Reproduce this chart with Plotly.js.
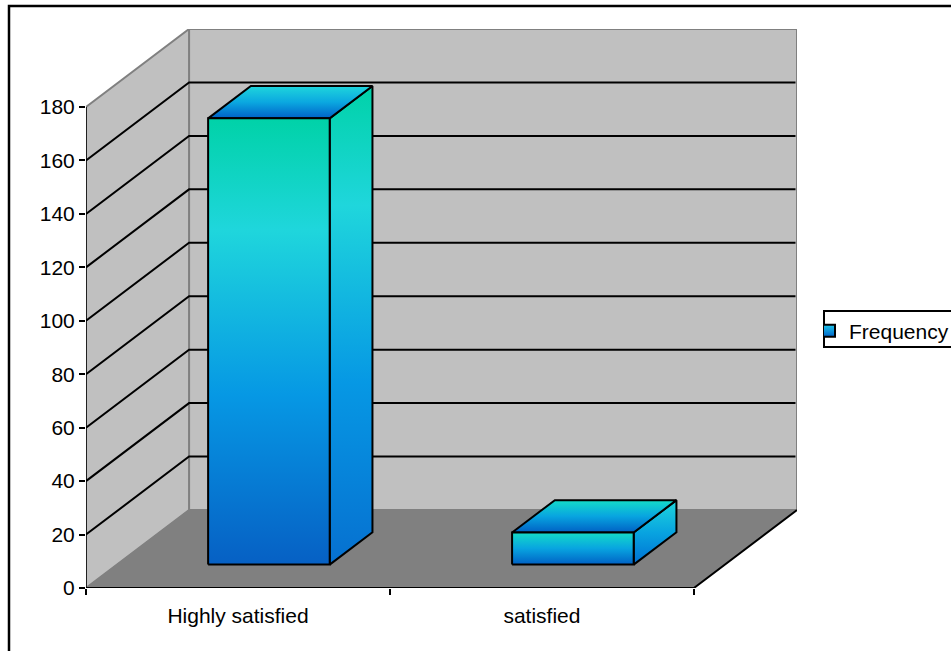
<!DOCTYPE html>
<html>
<head>
<meta charset="utf-8">
<script src="https://cdn.plot.ly/plotly-3.0.1.min.js"></script>
<style>html,body{margin:0;padding:0;background:#fff;overflow:hidden}</style>
</head>
<body>
<div id="chart" style="width:951px;height:651px"></div>
<script>
// Survey results
const categories = ["Highly satisfied", "satisfied"];
const frequency = [167, 12];
const seriesName = "Frequency";
const valueTicks = [0, 20, 40, 60, 80, 100, 120, 140, 160, 180];
const gridValues = [20, 40, 60, 80, 100, 120, 140, 160];

// Oblique projection: one unit of depth moves a point this far in axis units
const DEPTH_X = 0.339;
const DEPTH_Y = 29.2;
const VALUE_MAX = 180;
const COLUMN_WIDTH = 0.4;
const COLUMN_FRONT = 0.3;
const COLUMN_BACK = 0.715;

const project = (cat, val, depth) => [cat + depth * DEPTH_X, val + depth * DEPTH_Y];

// Builds a trace from [category, value, depth] corners
function poly(corners, style) {
  const pts = corners.map(c => project(c[0], c[1], c[2]));
  return Object.assign({
    type: "scatter", mode: "lines", hoverinfo: "skip", showlegend: false,
    x: pts.map(p => p[0]), y: pts.map(p => p[1])
  }, style);
}

const WALL = "#c0c0c0", FLOOR = "#808080", EDGE = "#808080";
const n = categories.length;
const traces = [];

// Walls and floor
traces.push(poly([[0,0,1],[n,0,1],[n,VALUE_MAX,1],[0,VALUE_MAX,1],[0,0,1]],
  {fill: "toself", fillcolor: WALL, line: {color: EDGE, width: 2}}));
traces.push(poly([[0,0,0],[0,0,1],[0,VALUE_MAX,1],[0,VALUE_MAX,0],[0,0,0]],
  {fill: "toself", fillcolor: WALL, line: {color: EDGE, width: 2}}));
traces.push(poly([[0,0,0],[n,0,0],[n,0,1],[0,0,1],[0,0,0]],
  {fill: "toself", fillcolor: FLOOR, line: {color: EDGE, width: 1}}));

// Gridlines run across the side wall and then along the back wall
gridValues.forEach(v => {
  traces.push(poly([[0,v,0],[0,v,1],[n - 0.005,v,1]], {line: {color: "#000", width: 2}}));
});

// Axis lines
traces.push(poly([[0,0,0],[0,VALUE_MAX,0]], {line: {color: "#000", width: 1.5}}));
traces.push(poly([[0,0,0],[n,0,0],[n,0,1]], {line: {color: "#000", width: 2}}));

// Gradient stops run from the bottom of each face to its top
const FRONT_TALL = [[0,"#0660c4"],[0.38,"#0698e4"],[0.75,"#1fd6dc"],[1,"#00d2a8"]];
const SIDE_TALL = [[0,"#0670d0"],[0.38,"#0698e4"],[0.75,"#1fd6dc"],[1,"#00d2a8"]];
const TOP_FACE = [[0,"#0060c8"],[0.5,"#0ba8e0"],[1,"#1fd6dc"]];
const FRONT_SHORT = [[0,"#0060c4"],[0.5,"#08a4e0"],[1,"#14dcc8"]];
const SIDE_SHORT = [[0,"#0070d4"],[0.5,"#08a4e0"],[1,"#1fd6dc"]];
const FACE_LINE = {color: "#000", width: 2};

// Each column is three shaded faces projected from its value
frequency.forEach((v, i) => {
  const l = i + 0.5 - COLUMN_WIDTH / 2, r = i + 0.5 + COLUMN_WIDTH / 2;
  const f = COLUMN_FRONT, b = COLUMN_BACK;
  const tall = v > 50;
  traces.push(poly([[r,0,f],[r,0,b],[r,v,b],[r,v,f],[r,0,f]],
    {fill: "toself", line: FACE_LINE,
     fillgradient: {type: "vertical", colorscale: tall ? SIDE_TALL : SIDE_SHORT}}));
  traces.push(poly([[l,v,f],[r,v,f],[r,v,b],[l,v,b],[l,v,f]],
    {fill: "toself", line: FACE_LINE,
     fillgradient: {type: "vertical", colorscale: tall ? TOP_FACE : FRONT_SHORT}}));
  traces.push(poly([[l,0,f],[r,0,f],[r,v,f],[l,v,f],[l,0,f]],
    {fill: "toself", line: FACE_LINE,
     fillgradient: {type: "vertical", colorscale: tall ? FRONT_TALL : FRONT_SHORT}}));
});

// Legend entry for the series
traces.push({
  type: "scatter", mode: "markers", name: seriesName, x: [null], y: [null],
  hoverinfo: "skip",
  marker: {symbol: "square", size: 12, color: "#1fc8ec",
           gradient: {type: "vertical", color: "#0064c8"},
           line: {color: "#000", width: 2}}
});

const W = 951, H = 651;
const M = {l: 86, r: W - 797, t: 29, b: H - 588};
const px = x => (x - M.l) / (W - M.l - M.r);
const py = y => 1 - (y - M.t) / (H - M.t - M.b);

const layout = {
  width: W, height: H,
  margin: M, autosize: false,
  paper_bgcolor: "#fff", plot_bgcolor: "rgba(0,0,0,0)",
  font: {family: "Liberation Sans, Arial, sans-serif", size: 21, color: "#000"},
  xaxis: {
    range: [0, n + DEPTH_X], showgrid: false, zeroline: false, showline: false,
    tickmode: "array",
    tickvals: categories.map((c, i) => i + 0.5), ticktext: categories,
    ticks: "outside", ticklen: 9, tickcolor: "rgba(0,0,0,0)",
    minor: {tickmode: "array", tickvals: [0, 1, 2], ticks: "outside", ticklen: 6, tickwidth: 2, tickcolor: "#000"}
  },
  yaxis: {
    range: [0, VALUE_MAX + DEPTH_Y], showgrid: false, zeroline: false, showline: false,
    tickmode: "array", tickvals: valueTicks,
    ticks: "outside", ticklen: 6, tickwidth: 2, tickcolor: "#000"
  },
  legend: {
    xref: "container", yref: "container",
    x: 824 / W, y: 1 - 310.5 / H, xanchor: "left", yanchor: "top",
    bgcolor: "rgba(0,0,0,0)", borderwidth: 0,
    indentation: -15, font: {size: 21}
  },
  showlegend: true,
  shapes: [
    // Chart frame: the top and left edges fall inside the page, the others beyond it
    {type: "rect", xref: "paper", yref: "paper", layer: "below",
     x0: px(9), x1: px(W + 20), y0: py(H + 20), y1: py(6),
     line: {color: "#000", width: 2.5}, fillcolor: "rgba(0,0,0,0)"},
    // Legend box
    {type: "rect", xref: "paper", yref: "paper", layer: "below",
     x0: px(824), x1: px(W + 20), y0: py(347), y1: py(311),
     line: {color: "#000", width: 2}, fillcolor: "#fff"}
  ]
};

Plotly.newPlot("chart", traces, layout, {displayModeBar: false, staticPlot: true});
</script>
</body>
</html>
